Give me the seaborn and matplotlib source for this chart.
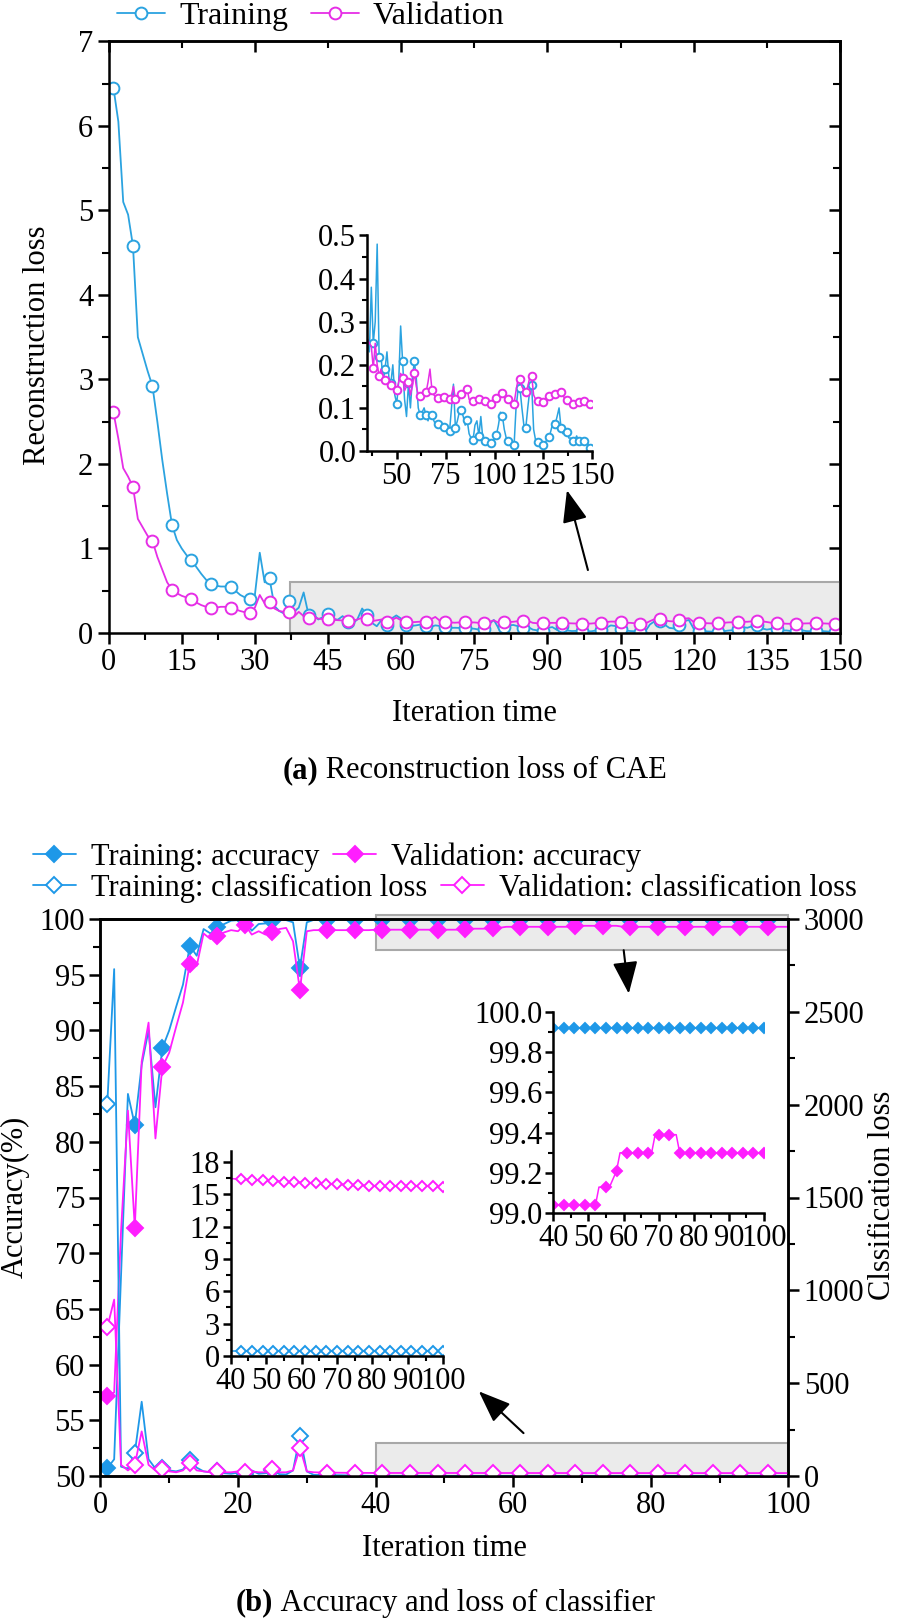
import matplotlib
matplotlib.use("Agg")
import matplotlib.pyplot as plt
import seaborn as sns
import pandas as pd
from matplotlib.patches import Rectangle
from matplotlib.ticker import MultipleLocator, FormatStrFormatter, NullFormatter

# ---------------- data: (a) reconstruction loss of CAE ----------------
iters_a = list(range(1, 151))
train_recon = [
    6.45, 6.05, 5.10, 4.95, 4.58, 3.50, 3.30, 3.10, 2.92, 2.50,
    2.05, 1.65, 1.28, 1.10, 1.00, 0.92, 0.865, 0.78, 0.70, 0.63,
    0.58, 0.56, 0.55, 0.55, 0.54, 0.50, 0.45, 0.42, 0.40, 0.45,
    0.95, 0.60, 0.645, 0.32, 0.26, 0.23, 0.38, 0.25, 0.30, 0.48,
    0.217, 0.22, 0.16, 0.19, 0.23, 0.17, 0.157, 0.20, 0.13, 0.11,
    0.16, 0.29, 0.208, 0.12, 0.08, 0.157, 0.10, 0.17, 0.208, 0.17,
    0.10, 0.083, 0.09, 0.10, 0.083, 0.07, 0.09, 0.083, 0.07, 0.06,
    0.062, 0.06, 0.058, 0.056, 0.05, 0.04, 0.046, 0.10, 0.155, 0.054,
    0.07, 0.09, 0.095, 0.08, 0.06, 0.072, 0.04, 0.03, 0.025, 0.06,
    0.07, 0.035, 0.08, 0.03, 0.023, 0.025, 0.02, 0.018, 0.02, 0.03,
    0.038, 0.06, 0.09, 0.082, 0.05, 0.03, 0.023, 0.02, 0.015, 0.013,
    0.10, 0.14, 0.146, 0.10, 0.06, 0.054, 0.10, 0.14, 0.154, 0.05,
    0.025, 0.021, 0.018, 0.015, 0.014, 0.02, 0.028, 0.033, 0.05, 0.07,
    0.062, 0.08, 0.10, 0.054, 0.04, 0.05, 0.045, 0.03, 0.03, 0.023,
    0.025, 0.035, 0.023, 0.02, 0.025, 0.023, 0.02, 0.015, 0.008, 0.005]
val_recon = [
    2.61, 2.30, 1.95, 1.85, 1.73, 1.35, 1.25, 1.15, 1.09, 0.90,
    0.75, 0.60, 0.514, 0.47, 0.44, 0.42, 0.40, 0.36, 0.33, 0.31,
    0.30, 0.30, 0.31, 0.31, 0.30, 0.28, 0.26, 0.245, 0.234, 0.30,
    0.45, 0.35, 0.365, 0.29, 0.26, 0.25, 0.243, 0.192, 0.25, 0.20,
    0.175, 0.19, 0.17, 0.165, 0.16, 0.155, 0.152, 0.15, 0.145, 0.142,
    0.16, 0.18, 0.17, 0.14, 0.15, 0.16, 0.13, 0.15, 0.182, 0.15,
    0.13, 0.127, 0.13, 0.135, 0.136, 0.16, 0.19, 0.142, 0.13, 0.125,
    0.122, 0.125, 0.13, 0.125, 0.125, 0.12, 0.121, 0.13, 0.15, 0.12,
    0.125, 0.13, 0.133, 0.14, 0.145, 0.144, 0.12, 0.115, 0.117, 0.12,
    0.12, 0.12, 0.118, 0.115, 0.115, 0.112, 0.11, 0.11, 0.112, 0.118,
    0.122, 0.13, 0.135, 0.135, 0.125, 0.12, 0.12, 0.115, 0.11, 0.11,
    0.14, 0.165, 0.167, 0.15, 0.14, 0.136, 0.15, 0.17, 0.175, 0.13,
    0.12, 0.117, 0.115, 0.113, 0.114, 0.12, 0.125, 0.127, 0.13, 0.133,
    0.133, 0.138, 0.14, 0.138, 0.13, 0.12, 0.118, 0.113, 0.11, 0.109,
    0.11, 0.112, 0.114, 0.115, 0.115, 0.115, 0.112, 0.11, 0.108, 0.107]

# ---------------- data: (b) accuracy and loss of classifier ----------------
iters_b = list(range(1, 101))
train_acc = [
    50.7, 51.5, 68.0, 84.3, 81.5, 86.9, 90.0, 83.1, 88.4, 90.0,
    92.1, 94.1, 97.6, 96.7, 99.1, 98.7, 99.3, 99.55, 99.85, 99.9,
    99.9, 98.95, 99.55, 99.6, 99.85, 99.9, 99.9, 99.7, 95.6, 99.7,
    99.92, 99.92, 99.92, 99.92, 99.92, 99.92, 99.92, 99.92, 99.92, 99.92,
    99.92, 99.92, 99.92, 99.92, 99.92, 99.92, 99.92, 99.92, 99.92, 99.92,
    99.92, 99.92, 99.92, 99.92, 99.92, 99.92, 99.92, 99.92, 99.92, 99.92,
    99.92, 99.92, 99.92, 99.92, 99.92, 99.92, 99.92, 99.92, 99.92, 99.92,
    99.92, 99.92, 99.92, 99.92, 99.92, 99.92, 99.92, 99.92, 99.92, 99.92,
    99.92, 99.92, 99.92, 99.92, 99.92, 99.92, 99.92, 99.92, 99.92, 99.92,
    99.92, 99.92, 99.92, 99.92, 99.92, 99.92, 99.92, 99.92, 99.92, 99.92]
val_acc = [
    57.2, 57.5, 72.0, 82.8, 72.3, 87.2, 90.7, 80.3, 86.7, 88.0,
    90.3, 92.5, 96.0, 95.8, 98.7, 98.2, 98.5, 98.8, 99.0, 98.9,
    99.5, 98.6, 98.9, 98.6, 98.8, 99.1, 99.2, 98.0, 93.6, 98.9,
    99.0, 99.0, 99.0, 99.0, 99.0, 99.0, 99.0, 99.0, 99.0, 99.04,
    99.04, 99.04, 99.04, 99.04, 99.04, 99.04, 99.04, 99.04, 99.04, 99.04,
    99.04, 99.04, 99.13, 99.13, 99.13, 99.13, 99.17, 99.21, 99.30, 99.30,
    99.30, 99.30, 99.30, 99.30, 99.30, 99.30, 99.30, 99.30, 99.39, 99.39,
    99.39, 99.39, 99.39, 99.39, 99.39, 99.30, 99.30, 99.30, 99.30, 99.30,
    99.30, 99.30, 99.30, 99.30, 99.30, 99.30, 99.30, 99.30, 99.30, 99.30,
    99.30, 99.30, 99.30, 99.30, 99.30, 99.30, 99.30, 99.30, 99.30, 99.30]
train_closs = [
    2004, 2730, 50, 40, 125, 400, 90, 40, 45, 30,
    25, 35, 86, 45, 25, 20, 25, 15, 12, 18,
    10, 30, 12, 15, 35, 10, 8, 30, 216, 25,
    6, 5, 5, 4, 4, 3, 2, 1.5, 1, 0.45,
    0.45, 0.45, 0.45, 0.45, 0.45, 0.45, 0.45, 0.45, 0.45, 0.45,
    0.45, 0.45, 0.45, 0.45, 0.45, 0.45, 0.45, 0.45, 0.45, 0.45,
    0.45, 0.45, 0.45, 0.45, 0.45, 0.45, 0.45, 0.45, 0.45, 0.45,
    0.45, 0.45, 0.45, 0.45, 0.45, 0.45, 0.45, 0.45, 0.45, 0.45,
    0.45, 0.45, 0.45, 0.45, 0.45, 0.45, 0.45, 0.45, 0.45, 0.45,
    0.45, 0.45, 0.45, 0.45, 0.45, 0.45, 0.45, 0.45, 0.45, 0.45]
val_closs = [
    800, 950, 60, 30, 60, 240, 60, 30, 40, 25,
    20, 30, 70, 30, 25, 20, 25, 20, 20, 25,
    20, 25, 20, 20, 40, 20, 20, 30, 152, 25,
    20, 19, 18.5, 18, 17.5, 17.2, 17, 16.8, 16.6, 16.45,
    16.42, 16.40, 16.39, 16.37, 16.36, 16.35, 16.33, 16.31, 16.30, 16.28,
    16.26, 16.23, 16.21, 16.19, 16.17, 16.16, 16.15, 16.14, 16.11, 16.08,
    16.05, 16.04, 16.03, 16.02, 16.00, 15.98, 15.96, 15.95, 15.94, 15.93,
    15.91, 15.88, 15.86, 15.85, 15.84, 15.83, 15.82, 15.81, 15.80, 15.79,
    15.78, 15.77, 15.76, 15.75, 15.74, 15.74, 15.74, 15.74, 15.74, 15.74,
    15.74, 15.74, 15.74, 15.74, 15.74, 15.74, 15.73, 15.72, 15.70, 15.68]

# ---------------- style ----------------
sns.set_theme(style="ticks")
plt.rcParams["font.family"] = ["Liberation Serif", "DejaVu Serif"]
plt.rcParams.update({
    "axes.linewidth": 1.8, "axes.edgecolor": "black",
    "xtick.color": "black", "ytick.color": "black",
    "xtick.major.width": 1.8, "ytick.major.width": 1.8,
    "xtick.minor.width": 1.5, "ytick.minor.width": 1.5,
    "text.color": "black", "axes.labelcolor": "black",
})
FS = 22
BLUE_A, MAG_A = "#2BA3E0", "#E62EE6"
BLUE_B, MAG_B = "#1E98E8", "#FF1EFF"
GRAY_FC, GRAY_EC = "#EBEBEB", "#A8A8A8"

W, H = 898, 1622
fig = plt.figure(figsize=(W / 100, H / 100), dpi=100)


def rect(l, t, r, b):
    return [l / W, 1 - b / H, (r - l) / W, (b - t) / H]


def ticks_out(ax, mj=8, mn=5):
    ax.tick_params(which="both", direction="out", labelsize=FS, pad=3)
    ax.tick_params(which="major", length=mj)
    ax.tick_params(which="minor", length=mn)


def line(ax, df, x, y, color, marker, ms, filled, every, lw=1.3, label=None):
    sns.lineplot(data=df, x=x, y=y, ax=ax, color=color, lw=lw, marker=marker,
                 markersize=ms, markerfacecolor=(color if filled else "white"),
                 markeredgecolor=color, markeredgewidth=1.4, markevery=every,
                 errorbar=None, legend=False, label=label)
    return ax.lines[-1]


# ======================= (a) =======================
dfA = pd.DataFrame({"iter": iters_a, "train": train_recon, "val": val_recon})
axA = fig.add_axes(rect(108.6, 41.4, 840, 633))
axA.add_patch(Rectangle((37.3, 0), 150 - 37.3, 0.6, facecolor=GRAY_FC,
                        edgecolor=GRAY_EC, lw=1.5, zorder=0.5))
hA1 = line(axA, dfA, "iter", "train", BLUE_A, "o", 8.5, False, (0, 4), label="Training")
hA2 = line(axA, dfA, "iter", "val", MAG_A, "o", 8.5, False, (0, 4), label="Validation")
axA.set_xlim(0, 150)
axA.set_ylim(0, 7)
axA.xaxis.set_major_locator(MultipleLocator(15))
axA.xaxis.set_minor_locator(MultipleLocator(7.5))
axA.yaxis.set_major_locator(MultipleLocator(1))
axA.yaxis.set_minor_locator(MultipleLocator(0.5))
ticks_out(axA)
axA.set_xlabel("")
axA.set_ylabel("")
secA = axA.secondary_xaxis("top")
secA.set_xticks(list(range(0, 151, 30)))
secA.set_xticks(list(range(15, 151, 30)), minor=True)
secA.xaxis.set_major_formatter(NullFormatter())
secA.tick_params(which="both", direction="in")
secA.tick_params(which="major", length=8)
secA.tick_params(which="minor", length=5)
secAy = axA.secondary_yaxis("right")
secAy.yaxis.set_major_locator(MultipleLocator(1))
secAy.yaxis.set_minor_locator(MultipleLocator(0.5))
secAy.yaxis.set_major_formatter(NullFormatter())
secAy.tick_params(which="both", direction="in")
secAy.tick_params(which="major", length=8)
secAy.tick_params(which="minor", length=5)
axA.annotate("", xy=(94.0, 1.69), xytext=(98.3, 0.745),
             arrowprops=dict(arrowstyle="-|>,head_length=0.9,head_width=0.35",
                             color="black", lw=1.5, mutation_scale=22,
                             shrinkA=0, shrinkB=0))

# inset (a)
subA = dfA[dfA["iter"] >= 35]
axA2 = fig.add_axes(rect(367.4, 235.5, 592.3, 451))
axA2.set_facecolor("none")
line(axA2, subA, "iter", "train", BLUE_A, "o", 5.5, False, (3, 3), lw=1.1)
line(axA2, subA, "iter", "val", MAG_A, "o", 5.5, False, (3, 3), lw=1.1)
axA2.set_xlim(35, 150)
axA2.set_ylim(0, 0.5)
axA2.set_xticks([50, 75, 100, 125, 150])
axA2.xaxis.set_minor_locator(MultipleLocator(12.5))
axA2.yaxis.set_major_locator(MultipleLocator(0.1))
axA2.yaxis.set_minor_locator(MultipleLocator(0.05))
axA2.yaxis.set_major_formatter(FormatStrFormatter("%.1f"))
for s in ("top", "right"):
    axA2.spines[s].set_visible(False)
ticks_out(axA2, 6, 3.5)
axA2.tick_params(pad=2)
axA2.set_xlabel("")
axA2.set_ylabel("")

fig.legend(handles=[hA1, hA2], labels=["Training", "Validation"], loc="center left",
           bbox_to_anchor=(117 / W, 1 - 16 / H), ncol=2, frameon=False,
           fontsize=23, handlelength=1.5, handletextpad=0.45, columnspacing=0.7,
           borderpad=0, borderaxespad=0, numpoints=1)
fig.text(38 / W, 1 - 345 / H, "Reconstruction loss", rotation=90, ha="center",
         va="center", fontsize=FS)
fig.text(474 / W, 1 - 714 / H, "Iteration time", ha="center", va="center", fontsize=FS)

# ======================= (b) =======================
dfB = pd.DataFrame({"iter": iters_b, "tacc": train_acc, "vacc": val_acc,
                    "tloss": train_closs, "vloss": val_closs})
axB = fig.add_axes(rect(100.4, 919, 788.4, 1476))
axB.add_patch(Rectangle((40, 97.2), 60, 3.15, facecolor=GRAY_FC, edgecolor=GRAY_EC,
                        lw=1.5, zorder=0.5, clip_on=False))
axB.add_patch(Rectangle((40, 50), 60, 2.95, facecolor=GRAY_FC, edgecolor=GRAY_EC,
                        lw=1.5, zorder=0.5))
hB1 = line(axB, dfB, "iter", "tacc", BLUE_B, "D", 8, True, (0, 4))
hB2 = line(axB, dfB, "iter", "vacc", MAG_B, "D", 8, True, (0, 4))
axB.set_xlim(0, 100)
axB.set_ylim(50, 100)
axB.xaxis.set_major_locator(MultipleLocator(20))
axB.xaxis.set_minor_locator(MultipleLocator(10))
axB.yaxis.set_major_locator(MultipleLocator(5))
axB.yaxis.set_minor_locator(MultipleLocator(2.5))
ticks_out(axB)
axB.set_xlabel("")
axB.set_ylabel("")

axB2 = axB.twinx()
hB3 = line(axB2, dfB, "iter", "tloss", BLUE_B, "D", 8, False, (0, 4))
hB4 = line(axB2, dfB, "iter", "vloss", MAG_B, "D", 8, False, (0, 4))
axB2.set_ylim(0, 3000)
axB2.yaxis.set_major_locator(MultipleLocator(500))
axB2.yaxis.set_minor_locator(MultipleLocator(250))
ticks_out(axB2)
axB2.set_ylabel("")
axB2.set_xlabel("")

secB = axB.secondary_xaxis("top")
secB.set_xticks([25, 50, 75])
secB.xaxis.set_major_formatter(NullFormatter())
secB.tick_params(which="both", direction="in", length=8)

arrow_kw = dict(arrowstyle="-|>,head_length=0.9,head_width=0.35", color="black",
                lw=1.5, mutation_scale=22, shrinkA=0, shrinkB=0)
axB.annotate("", xy=(76.8, 93.3), xytext=(76.06, 97.2), arrowprops=arrow_kw,
             annotation_clip=False)
axB.annotate("", xy=(55.0, 57.6), xytext=(61.5, 53.85), arrowprops=arrow_kw)

# inset (b) accuracy
subB = dfB[dfB["iter"] >= 40]
axB3 = fig.add_axes(rect(553.3, 1011.7, 764, 1213.3))
axB3.set_facecolor("none")
line(axB3, subB, "iter", "tacc", BLUE_B, "D", 5.5, True, (0, 3), lw=1.1)
line(axB3, subB, "iter", "vacc", MAG_B, "D", 5.5, True, (0, 3), lw=1.1)
axB3.set_xlim(40, 100)
axB3.set_ylim(99.0, 100.0)
axB3.xaxis.set_major_locator(MultipleLocator(10))
axB3.xaxis.set_minor_locator(MultipleLocator(5))
axB3.yaxis.set_major_locator(MultipleLocator(0.2))
axB3.yaxis.set_minor_locator(MultipleLocator(0.1))
axB3.yaxis.set_major_formatter(FormatStrFormatter("%.1f"))
for s in ("top", "right"):
    axB3.spines[s].set_visible(False)
ticks_out(axB3, 6, 3.5)
axB3.tick_params(pad=2)
axB3.set_xlabel("")
axB3.set_ylabel("")

# inset (b) loss
axB4 = fig.add_axes(rect(230.7, 1151, 443.3, 1356))
axB4.set_facecolor("none")
line(axB4, subB, "iter", "tloss", BLUE_B, "D", 5.5, False, (3, 3), lw=1.1)
line(axB4, subB, "iter", "vloss", MAG_B, "D", 5.5, False, (3, 3), lw=1.1)
axB4.set_xlim(40, 100)
axB4.set_ylim(0, 19)
axB4.xaxis.set_major_locator(MultipleLocator(10))
axB4.xaxis.set_minor_locator(MultipleLocator(5))
axB4.yaxis.set_major_locator(MultipleLocator(3))
axB4.yaxis.set_minor_locator(MultipleLocator(1.5))
for s in ("top", "right"):
    axB4.spines[s].set_visible(False)
ticks_out(axB4, 6, 3.5)
axB4.tick_params(pad=2)
axB4.set_xlabel("")
axB4.set_ylabel("")

leg_kw = dict(loc="center left", ncol=2, frameon=False, fontsize=22,
              handlelength=1.4, handletextpad=0.5, columnspacing=0.45,
              borderpad=0, borderaxespad=0, numpoints=1)
fig.legend(handles=[hB1, hB2], labels=["Training: accuracy", "Validation: accuracy"],
           bbox_to_anchor=(33 / W, 1 - 857 / H), **leg_kw)
fig.legend(handles=[hB3, hB4],
           labels=["Training: classification loss", "Validation: classification loss"],
           bbox_to_anchor=(33 / W, 1 - 888 / H), **leg_kw)

fig.text(15 / W, 1 - 1197 / H, "Accuracy(%)", rotation=90, ha="center", va="center",
         fontsize=FS)
fig.text(882 / W, 1 - 1195 / H, "Clssification loss", rotation=90, ha="center",
         va="center", fontsize=FS)
fig.text(444 / W, 1 - 1548 / H, "Iteration time", ha="center", va="center", fontsize=FS)

# captions with bold panel letter
renderer = fig.canvas.get_renderer()


def caption(cx, cy, bold, rest):
    t1 = fig.text(0, 1 - cy / H, bold, fontweight="bold", ha="left", va="center",
                  fontsize=FS)
    t2 = fig.text(0, 1 - cy / H, rest, ha="left", va="center", fontsize=FS)
    w1 = t1.get_window_extent(renderer).width
    w2 = t2.get_window_extent(renderer).width
    x0 = cx - (w1 + w2) / 2
    t1.set_x(x0 / W)
    t2.set_x((x0 + w1) / W)


caption(475, 771, "(a)", "\u00a0Reconstruction loss of CAE")
caption(445, 1603, "(b)", "\u00a0Accuracy and loss of classifier")

fig.savefig("out.png", dpi=100)
